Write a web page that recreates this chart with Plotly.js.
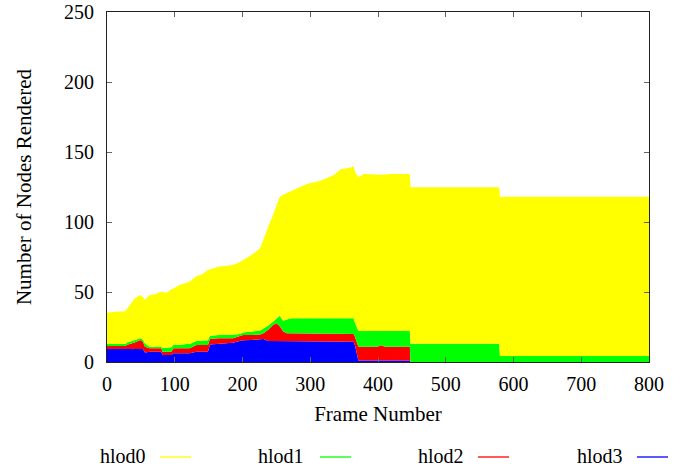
<!DOCTYPE html>
<html>
<head>
<meta charset="utf-8">
<script src="https://cdn.plot.ly/plotly-3.0.1.min.js"></script>
<style>
html,body{margin:0;padding:0;background:#fff;font-family:'Liberation Serif','Times New Roman',serif;}
#chart{width:689px;height:468px;}
#chart svg text{font-family:'Liberation Serif','Times New Roman',serif !important;}
</style>
</head>
<body>
<div id="chart"></div>
<script>
// Frame numbers (shared by all series)
var frames = [0,12,27,30,36,41,49,53,56,63,72,80,82,88,95,98,107,117,122,132,140,149,152,164,186,196,201,213,226,231,238,245,250,255,260,265,272,280,295,315,335,345,360,364,366,371,379,399,405,410,418,447,448,579,580,800];

// Nodes rendered per HLOD level (stacked: hlod3 bottom ... hlod0 top)
var hlod3 = [9.3,9.3,9.3,9.3,9.3,9.3,9.3,9.3,6.7,7.4,7.4,7.4,5.0,5.0,5.0,6.2,6.2,6.2,6.2,7.4,7.4,7.4,12.5,13.0,13.8,15.0,15.5,15.7,16.2,16.5,15.0,15.0,15.0,15.0,15.0,15.0,15.0,15.0,15.0,15.0,15.0,15.0,14.5,14.5,12.0,1.0,1.0,1.0,1.0,1.0,1.0,1.0,0,0,0,0];
var hlod2 = [2.1,2.1,2.1,3.0,3.7,4.7,6.4,5.2,4.2,2.4,2.4,2.4,2.4,2.4,2.4,3.6,3.6,3.6,3.6,4.7,4.7,4.7,4.0,3.9,3.1,3.5,3.8,3.6,3.4,4.0,8.0,11.5,12.6,10.5,7.0,5.5,5.5,5.5,5.5,5.5,5.5,5.5,5.5,5.5,6.0,9.9,9.9,9.9,11.0,9.9,9.9,9.9,0,0,0,0];
var hlod1 = [1.5,1.5,1.5,1.7,1.8,1.5,1.2,1.5,2.4,1.1,1.1,1.1,2.6,2.6,3.1,2.3,2.3,3.0,3.0,2.9,2.9,3.4,2.1,2.4,2.6,1.5,1.7,2.2,2.9,3.5,3.0,2.3,3.4,7.5,7.5,9.5,10.7,10.7,10.7,10.7,10.7,10.7,11.2,11.2,10.0,11.2,11.2,11.2,10.1,11.2,11.2,11.2,13.1,13.1,4.3,4.3];
var hlod0 = [22.3,23.0,23.3,24.3,27.1,30.0,31.0,30.5,31.0,37.0,37.6,39.3,40.0,39.5,41.4,40.4,42.9,43.7,44.6,46.5,47.5,50.2,47.4,48.7,49.8,51.5,51.9,54.9,58.7,64.3,70.7,76.2,81.0,85.1,90.0,90.5,90.8,92.8,95.9,98.3,102.4,106.4,107.8,108.8,108.0,109.8,112.2,111.5,111.7,111.9,112.2,112.2,111.7,111.7,113.8,113.8];

var seriesNames = ['hlod0','hlod1','hlod2','hlod3'];
var seriesColors = ['#ffff00','#00ff00','#ff0000','#0000ff'];
var seriesData = [hlod0, hlod1, hlod2, hlod3];

var xTicks = [0,100,200,300,400,500,600,700,800];
var yTicks = [0,50,100,150,200,250];

var FONT = 'Times New Roman';

var traces = [];
for (var i = seriesData.length - 1; i >= 0; i--) {
  traces.push({
    type: 'scatter', mode: 'lines', name: seriesNames[i],
    x: frames, y: seriesData[i], stackgroup: 'one',
    line: {width: 0, color: seriesColors[i]},
    fillcolor: seriesColors[i], showlegend: false, hoverinfo: 'skip'
  });
}

// custom gnuplot-style legend: text then line sample
var L = 107, W = 542, B = 362, H = 350;
function px2x(p){ return (p - L) / W; }
function py2y(p){ return (B - p) / H; }
var legTextRight = [148, 306, 466, 625];
var legLineStart = [160, 320, 478, 637];
var legY = 456;
var annotations = [], shapes = [];
for (var k = 0; k < seriesNames.length; k++) {
  annotations.push({
    xref: 'paper', yref: 'paper', x: px2x(legTextRight[k]), y: py2y(legY),
    xanchor: 'right', yanchor: 'middle', showarrow: false,
    text: seriesNames[k], font: {family: FONT, size: 20}
  });
  shapes.push({
    type: 'line', xref: 'paper', yref: 'paper',
    x0: px2x(legLineStart[k]), x1: px2x(legLineStart[k] + 31),
    y0: py2y(legY + 1), y1: py2y(legY + 1),
    line: {color: seriesColors[k], width: 1.3}
  });
}

var axisCommon = {
  showgrid: false, zeroline: false, showline: true, linecolor: '#222', linewidth: 1.2,
  mirror: 'ticks', ticks: 'inside', ticklen: 5, tickcolor: '#666', tickwidth: 1,
  tickfont: {family: FONT, size: 20}, fixedrange: true
};

var layout = {
  width: 689, height: 468,
  margin: {l: 107, r: 40, t: 12, b: 106},
  paper_bgcolor: '#fff', plot_bgcolor: '#fff',
  font: {family: FONT, color: '#000'},
  xaxis: Object.assign({}, axisCommon, {
    range: [0, 800], tickvals: xTicks, ticktext: xTicks.map(String),
    ticklabelstandoff: 4,
    title: {text: 'Frame Number', font: {family: FONT, size: 21}, standoff: 12}
  }),
  yaxis: Object.assign({}, axisCommon, {
    range: [0, 250], tickvals: yTicks, ticktext: yTicks.map(String),
    ticklabelstandoff: 8,
    title: {text: 'Number of Nodes Rendered', font: {family: FONT, size: 21}, standoff: 26}
  }),
  annotations: annotations, shapes: shapes, showlegend: false
};

Plotly.newPlot('chart', traces, layout, {displayModeBar: false});
</script>
</body>
</html>
